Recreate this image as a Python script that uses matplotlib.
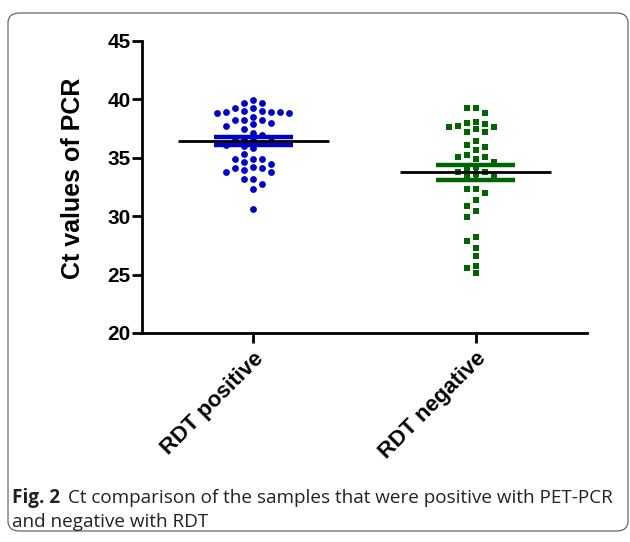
import numpy as np
import matplotlib
matplotlib.use('Agg')
import matplotlib.pyplot as plt
from matplotlib.patches import FancyBboxPatch

categories = ['RDT positive', 'RDT negative']

rdt_positive = [39.95, 39.72, 39.72, 39.29, 39.29, 39.0, 38.9, 38.9, 38.8, 38.8, 38.9, 39.0,
                38.5, 38.2, 38.2, 38.2, 38.0, 37.9, 37.7, 37.5, 37.15,
                36.95, 36.6, 36.5, 36.5, 36.4, 36.3, 36.1, 36.0, 35.8,
                35.33, 34.9, 34.9, 34.9, 34.6, 34.5, 34.25, 34.1, 34.1, 33.96,
                33.8, 33.8, 33.18, 33.18, 32.78, 32.33, 30.6]

rdt_negative = [39.24, 39.24, 38.86, 38.1, 37.95, 37.87, 37.75, 37.64, 37.64, 37.47, 37.24, 37.24,
                36.47, 36.1, 35.96, 35.67, 35.24, 35.1, 35.1, 34.87, 34.67,
                34.2, 34.04, 33.8, 33.5, 33.35, 33.8, 33.6,
                32.3, 32.3, 32.0, 31.39, 30.9, 30.47, 29.96,
                28.2, 27.9, 27.25, 26.6, 25.74, 25.54, 25.1]

yticks = [20, 25, 30, 35, 40, 45]

W, H, DPI = 630, 542, 100
fig = plt.figure(figsize=(W / DPI, H / DPI), dpi=DPI)
ax = fig.add_axes([142 / W, 1 - 333 / H, 445 / W, 292 / H])
ax.set_xlim(-0.5, 1.5)
ax.set_ylim(20, 45)

# pixel scales, used to lay points out like a column scatter
px_per_x = 445 / 2.0
px_per_y = 292 / 25.0
slot = 9.0 / px_per_x


def swarm(values, gap=6.8):
    vals = sorted(values, reverse=True)
    placed = {}
    xs = []
    order = [0]
    for i in range(1, 12):
        order += [-i, i]
    for v in vals:
        for k in order:
            if all(abs(v - u) * px_per_y >= gap for u in placed.get(k, [])):
                break
        placed.setdefault(k, []).append(v)
        xs.append(k)
    return np.array(xs), np.array(vals)


groups = [(rdt_positive, '#0000c8', 'o', 24), (rdt_negative, '#006400', 's', 20)]
for i, (vals, col, mk, sz) in enumerate(groups):
    k, v = swarm(vals)
    ax.scatter(i + k * slot, v, s=sz, marker=mk, color=col, linewidths=0, zorder=3)
    m = np.mean(vals)
    sem = np.std(vals, ddof=1) / np.sqrt(len(vals))
    ax.plot([i, i], [m - sem, m + sem], color=col, lw=3, zorder=4, solid_capstyle='butt')
    for yy in (m - sem, m + sem):
        ax.plot([i - 0.177, i + 0.177], [yy, yy], color=col, lw=3.2, zorder=4,
                solid_capstyle='butt')
    ax.plot([i - 0.34, i + 0.34], [m, m], color='black', lw=2, zorder=5,
            solid_capstyle='butt')

ax.spines['top'].set_visible(False)
ax.spines['right'].set_visible(False)
for s in ('left', 'bottom'):
    ax.spines[s].set_linewidth(2)

ax.set_yticks(yticks)
ax.set_xticks([0, 1])
ax.set_xticklabels(categories, rotation=45, ha='right', rotation_mode='anchor')
ax.tick_params(axis='both', width=2, length=7, direction='out')
ax.tick_params(axis='y', pad=1)
ax.tick_params(axis='x', pad=4)
for lab in ax.get_yticklabels():
    lab.set_fontfamily('Liberation Sans')
    lab.set_fontweight('bold')
    lab.set_fontsize(15)
for lab in ax.get_xticklabels():
    lab.set_fontfamily('Liberation Sans')
    lab.set_fontweight('bold')
    lab.set_fontsize(16)
ax.set_ylabel('Ct values of PCR', fontfamily='Liberation Sans', fontweight='bold',
              fontsize=18)
ax.yaxis.set_label_coords(-0.128, 0.531)

# frame around the figure and caption
box = FancyBboxPatch((8 / W, 11 / H), 620 / W, 518 / H,
                     boxstyle='round,pad=0,rounding_size=0.018',
                     transform=fig.transFigure, fill=False, edgecolor='#555555',
                     lw=0.8)
fig.patches.append(box)

t1 = fig.text(12 / W, 1 - 503 / H, 'Fig. 2', fontfamily='Open Sans', fontweight='bold',
              fontsize=13.6, color='#222222')
fig.canvas.draw()
bb = t1.get_window_extent(fig.canvas.get_renderer())
fig.text(bb.x1 / W + 8 / W, 1 - 503 / H,
         'Ct comparison of the samples that were positive with PET-PCR',
         fontfamily='Open Sans', fontsize=13.6, color='#222222')
fig.text(12 / W, 1 - 527 / H, 'and negative with RDT', fontfamily='Open Sans',
         fontsize=13.6, color='#222222')

fig.savefig('out.png', dpi=DPI)
